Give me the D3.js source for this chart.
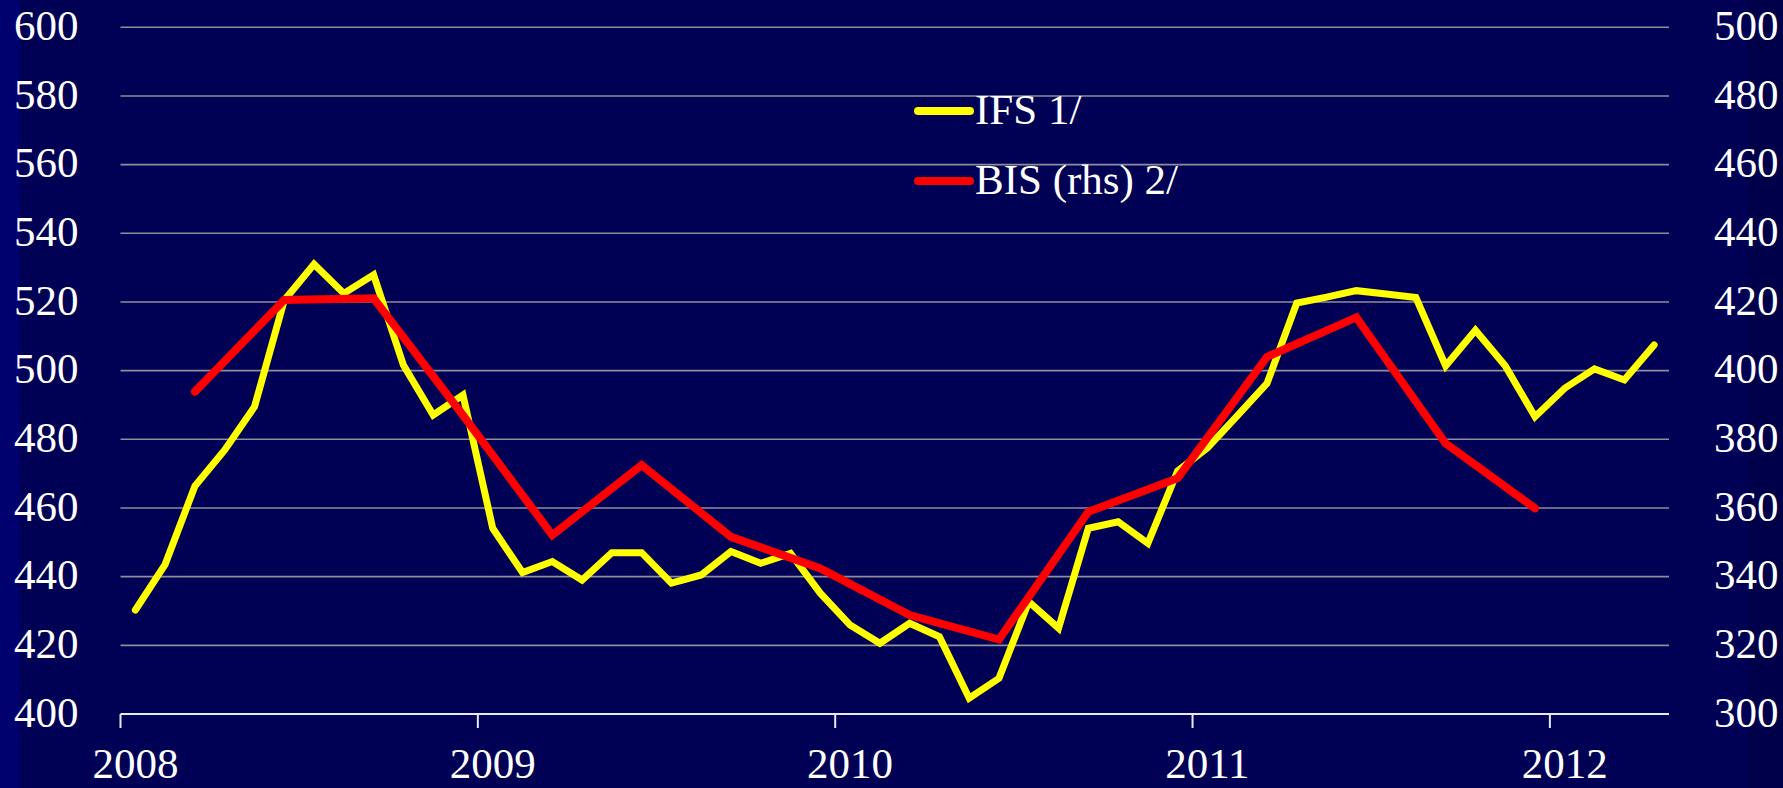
<!DOCTYPE html>
<html>
<head>
<meta charset="utf-8">
<script src="https://cdn.jsdelivr.net/npm/d3@7"></script>
<style>
  html, body { margin: 0; padding: 0; background: #000055; }
  svg { display: block; }
</style>
</head>
<body>
<svg id="chart" width="1783" height="788"></svg>
<script>
// Monthly categories, Jan 2008 – Apr 2012
const months = d3.timeMonths(new Date(2008, 0, 1), new Date(2012, 4, 1));

// IFS monthly series (left axis)
const ifsValues = [
  430.3, 443.6, 466.4, 476.9, 489.5, 520.5, 531.0, 522.5, 527.9, 501.6, 487.1, 492.9,
  454.1, 441.2, 444.4, 439.0, 447.0, 447.0, 438.1, 440.5, 447.3, 443.9, 446.8, 435.2,
  425.9, 420.6, 426.4, 422.5, 404.6, 410.4, 432.7, 425.0, 454.1, 456.0, 449.7, 470.8,
  477.5, 486.8, 496.3, 519.7, 521.4, 523.3, 522.3, 521.3, 501.4, 511.8, 501.4, 486.6,
  494.9, 500.5, 497.3, 507.5
];

// BIS quarterly series, end-of-quarter months (right axis)
const bisMonths = [
  new Date(2008, 2, 1), new Date(2008, 5, 1), new Date(2008, 8, 1), new Date(2008, 11, 1),
  new Date(2009, 2, 1), new Date(2009, 5, 1), new Date(2009, 8, 1), new Date(2009, 11, 1),
  new Date(2010, 2, 1), new Date(2010, 5, 1), new Date(2010, 8, 1), new Date(2010, 11, 1),
  new Date(2011, 2, 1), new Date(2011, 5, 1), new Date(2011, 8, 1), new Date(2011, 11, 1)
];
const bisValues = [
  393.9, 420.6, 421.1, 387.0, 352.1, 372.5, 351.6, 342.4,
  328.8, 321.7, 358.9, 368.7, 404.0, 415.5, 378.8, 359.9
];

const leftTicks = [400, 420, 440, 460, 480, 500, 520, 540, 560, 580, 600];
const rightTicks = [300, 320, 340, 360, 380, 400, 420, 440, 460, 480, 500];
const yearLabels = ["2008", "2009", "2010", "2011", "2012"];

const seriesNames = ["IFS 1/", "BIS (rhs) 2/"];
const seriesColors = ["#ffff00", "#ff0000"];

const svg = d3.select("#chart");
const W = 1783, H = 788;
const plot = { left: 120.5, right: 1669, top: 27.3, bottom: 714 };
const FONT = "'Liberation Serif', 'Times New Roman', serif";

// Background with slightly lighter left band and darker right band
svg.append("rect").attr("width", W).attr("height", H).attr("fill", "#000055");
svg.append("rect").attr("x", 0).attr("width", 20).attr("height", H).attr("fill", "#00006e");
svg.append("rect").attr("x", 1748).attr("width", W - 1748).attr("height", H).attr("fill", "#00004a");

const keyOf = d => +d;
const x = d3.scaleBand()
  .domain(months.map(keyOf))
  .range([plot.left, plot.right])
  .paddingInner(0).paddingOuter(0);
const bw = x.bandwidth();
const cx = d => x(keyOf(d)) + bw / 2;

const yL = d3.scaleLinear().domain([400, 600]).range([plot.bottom, plot.top]);
const yR = d3.scaleLinear().domain([300, 500]).range([plot.bottom, plot.top]);

// Horizontal gridlines
svg.append("g")
  .selectAll("line")
  .data(leftTicks.filter(v => v > 400))
  .join("line")
  .attr("x1", plot.left).attr("x2", plot.right)
  .attr("y1", d => yL(d)).attr("y2", d => yL(d))
  .attr("stroke", "#8e8e9a").attr("stroke-width", 1.6);

// Left axis labels
const axL = svg.append("g")
  .attr("transform", `translate(${plot.left},0)`)
  .call(d3.axisLeft(yL).tickValues(leftTicks).tickSize(0).tickPadding(42).tickFormat(d3.format("d")));
axL.select(".domain").remove();
axL.selectAll("text")
  .attr("fill", "#ffffff").attr("font-family", FONT).attr("font-size", 43)
  .attr("dy", "0.28em");

// Right axis labels
const axR = svg.append("g")
  .attr("transform", `translate(${plot.right},0)`)
  .call(d3.axisRight(yR).tickValues(rightTicks).tickSize(0).tickPadding(45).tickFormat(d3.format("d")));
axR.select(".domain").remove();
axR.selectAll("text")
  .attr("fill", "#ffffff").attr("font-family", FONT).attr("font-size", 43)
  .attr("dy", "0.28em");

// X axis baseline
svg.append("line")
  .attr("x1", plot.left).attr("x2", plot.right)
  .attr("y1", plot.bottom).attr("y2", plot.bottom)
  .attr("stroke", "#e8e8f0").attr("stroke-width", 2);

// Year ticks at January boundaries, labels centred on January
const januaries = months.filter(d => d.getMonth() === 0);
svg.append("g").selectAll("line")
  .data(januaries)
  .join("line")
  .attr("x1", d => x(keyOf(d))).attr("x2", d => x(keyOf(d)))
  .attr("y1", plot.bottom).attr("y2", plot.bottom + 14)
  .attr("stroke", "#e8e8f0").attr("stroke-width", 2);

svg.append("g").selectAll("text")
  .data(januaries)
  .join("text")
  .attr("x", d => cx(d))
  .attr("y", 778)
  .attr("text-anchor", "middle")
  .attr("fill", "#ffffff").attr("font-family", FONT).attr("font-size", 43)
  .text((d, i) => yearLabels[i]);

// Series lines
const ifsData = months.map((m, i) => ({ m, v: ifsValues[i] }));
const bisData = bisMonths.map((m, i) => ({ m, v: bisValues[i] }));

svg.append("path")
  .datum(ifsData)
  .attr("fill", "none")
  .attr("stroke", seriesColors[0])
  .attr("stroke-width", 7)
  .attr("stroke-linejoin", "miter")
  .attr("stroke-linecap", "round")
  .attr("d", d3.line().x(d => cx(d.m)).y(d => yL(d.v)));

svg.append("path")
  .datum(bisData)
  .attr("fill", "none")
  .attr("stroke", seriesColors[1])
  .attr("stroke-width", 8)
  .attr("stroke-linejoin", "miter")
  .attr("stroke-linecap", "round")
  .attr("d", d3.line().x(d => cx(d.m)).y(d => yR(d.v)));

// Legend
const legend = svg.append("g");
const legendRows = [111, 181];
seriesNames.forEach((name, i) => {
  legend.append("line")
    .attr("x1", 918).attr("x2", 970)
    .attr("y1", legendRows[i]).attr("y2", legendRows[i])
    .attr("stroke", seriesColors[i]).attr("stroke-width", 8)
    .attr("stroke-linecap", "round");
  legend.append("text")
    .attr("x", 975).attr("y", legendRows[i] + 13)
    .attr("fill", "#ffffff").attr("font-family", FONT).attr("font-size", 43)
    .text(name);
});
</script>
</body>
</html>
